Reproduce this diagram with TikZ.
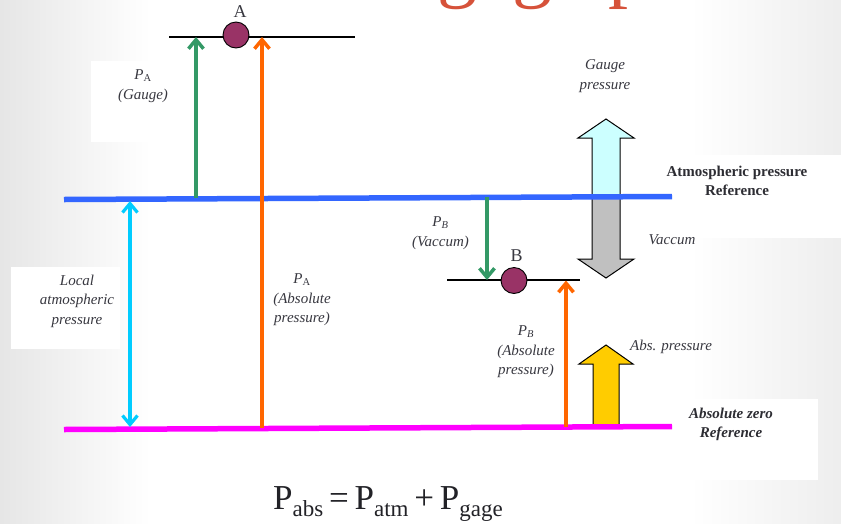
\documentclass[tikz,border=0pt]{standalone}
\usepackage{fontspec}
\setmainfont{Liberation Serif}
\usetikzlibrary{arrows.meta}
\definecolor{lineblue}{HTML}{3366FF}
\definecolor{linemag}{HTML}{FF00FF}
\definecolor{arrcyan}{HTML}{00CCFF}
\definecolor{arrgreen}{HTML}{339966}
\definecolor{arrorange}{HTML}{FF6600}
\definecolor{plum}{HTML}{993366}
\definecolor{lightcyan}{HTML}{CCFFFF}
\definecolor{blockgray}{HTML}{C0C0C0}
\definecolor{blockyellow}{HTML}{FFCC00}
\definecolor{txtgray}{HTML}{383840}
\definecolor{titlered}{HTML}{D6523A}
\definecolor{edgegray}{HTML}{E6E6E6}
\begin{document}
\begin{tikzpicture}[x=1pt,y=-1pt,
  lbl/.style={font=\fontsize{15}{19.5}\selectfont\itshape, text=txtgray, align=center, inner sep=0pt},
  boldlbl/.style={font=\fontsize{15}{19}\selectfont\bfseries, text=txtgray!80!black, align=center, inner sep=0pt},
  bilbl/.style={font=\fontsize{15}{19}\selectfont\bfseries\itshape, text=txtgray!80!black, align=center, inner sep=0pt},
  ptlbl/.style={font=\fontsize{18}{20}\selectfont, text=txtgray, inner sep=0pt},
  refline/.style={line width=5.5pt},
  thinline/.style={draw=black, line width=1.2pt},
  arrline/.style={line width=3.5pt, -{Straight Barb[length=9pt,width=15pt]}},
  dblarr/.style={line width=3.2pt, {Straight Barb[length=9pt,width=15pt]}-{Straight Barb[length=9pt,width=15pt]}},
  ball/.style={circle, draw=black, line width=0.9pt, fill=plum, minimum size=26pt, inner sep=0pt},
  block/.style={draw=black, line width=1pt, line join=miter},
  patch/.style={fill=white, draw=none}
]
% page and background
\useasboundingbox (0,0) rectangle (841,523);
\fill[white] (0,0) rectangle (841,523);
\shade[left color=edgegray, right color=white] (0,0) rectangle (150,523);
\shade[left color=white, right color=edgegray!70] (690,0) rectangle (841,523);
\fill[patch] (91,61) rectangle (185,142);
\fill[patch] (11,267) rectangle (120,349);
\fill[patch] (657,155) rectangle (841,238);
\fill[patch] (672,399) rectangle (818,480);

% cut-off title at the top
\begin{scope}
\clip (0,0) rectangle (841,523);
\node[anchor=base west, inner sep=0pt, text=titlered, font=\fontsize{80}{80}\selectfont] (title) at (437,-7.5) {gage p};
\end{scope}

% block arrows
\fill[lightcyan] (606,119) -- (634,138) -- (620,138) -- (620,197) -- (592,197) -- (592,138) -- (578,138) -- cycle;
\fill[blockgray] (592,197) -- (620,197) -- (620,259) -- (634,259) -- (606,278) -- (578,259) -- (592,259) -- cycle;
\draw[block] (606,119) -- (634,138) -- (620,138) -- (620,259) -- (634,259) -- (606,278)
  -- (578,259) -- (592,259) -- (592,138) -- (578,138) -- cycle;
\draw[block, fill=blockyellow] (606,345) -- (633,364) -- (619,364) -- (619,426) -- (593,426) -- (593,364) -- (579,364) -- cycle;

% reference lines
\coordinate (blueL) at (64,199.5);
\coordinate (blueR) at (672,196.5);
\coordinate (magL) at (64,429.5);
\coordinate (magR) at (672,426.5);
\draw[refline, lineblue] (blueL) -- (blueR);
\draw[refline, linemag] (magL) -- (magR);

% level lines for A and B
\coordinate (lineAL) at (169,37);
\coordinate (lineAR) at (355,37);
\coordinate (lineBL) at (447,280);
\coordinate (lineBR) at (580,280);
\draw[thinline] (lineAL) -- (lineAR);
\draw[thinline] (lineBL) -- (lineBR);

% arrow end points
\coordinate (gA0) at (196,197.5);
\coordinate (gA1) at (196,37);
\coordinate (oA0) at (262,428);
\coordinate (oA1) at (262,37);
\coordinate (gB0) at (487,197);
\coordinate (gB1) at (487,280);
\coordinate (oB0) at (566,427);
\coordinate (oB1) at (566,280.5);
\coordinate (cy0) at (130,201);
\coordinate (cy1) at (130,427);

\draw[arrline, arrgreen] (gA0) -- (gA1);
\draw[arrline, arrorange] (oA0) -- (oA1);
\draw[arrline, arrgreen] (gB0) -- (gB1);
\draw[arrline, arrorange] (oB0) -- (oB1);
\draw[dblarr, arrcyan] (cy0) -- (cy1);

% points A and B
\node[ball] (cA) at (236,35) {};
\node[ball] (cB) at (514,280.5) {};
\node[ptlbl] (labA) at (240,12) {A};
\node[ptlbl] (labB) at (516.5,256) {B};

% labels
\node[lbl] (pagauge) at (143,86) {P\textsubscript{\upshape A}\\(Gauge)};
\node[lbl] (local) at (77,301) {Local\\atmospheric\\pressure};
\node[lbl] (paabs) at (302,300) {P\textsubscript{\upshape A}\\(Absolute\\pressure)};
\node[lbl] (pbvac) at (440.5,233) {P\textsubscript{B}\\(Vaccum)};
\node[lbl] (pbabs) at (526,352) {P\textsubscript{B}\\(Absolute\\pressure)};
\node[lbl] (gauge) at (605,76) {Gauge\\pressure};
\node[lbl] (vac) at (672,240) {Vaccum};
\node[lbl] (abs) at (671,347) {Abs. pressure};
\node[boldlbl] (atmref) at (737,181) {Atmospheric pressure\\Reference};
\node[bilbl] (zeroref) at (731,424) {Absolute zero\\Reference};

% formula
\node[anchor=base, inner sep=0pt, text=txtgray!60!black, font=\fontsize{35}{40}\selectfont] (formula) at (388,509)
  {P\raisebox{-7pt}{\fontsize{23}{25}\selectfont abs}\,=\,P\raisebox{-7pt}{\fontsize{23}{25}\selectfont atm}\,+\,P\raisebox{-7pt}{\fontsize{23}{25}\selectfont gage}};
\end{tikzpicture}
\end{document}
